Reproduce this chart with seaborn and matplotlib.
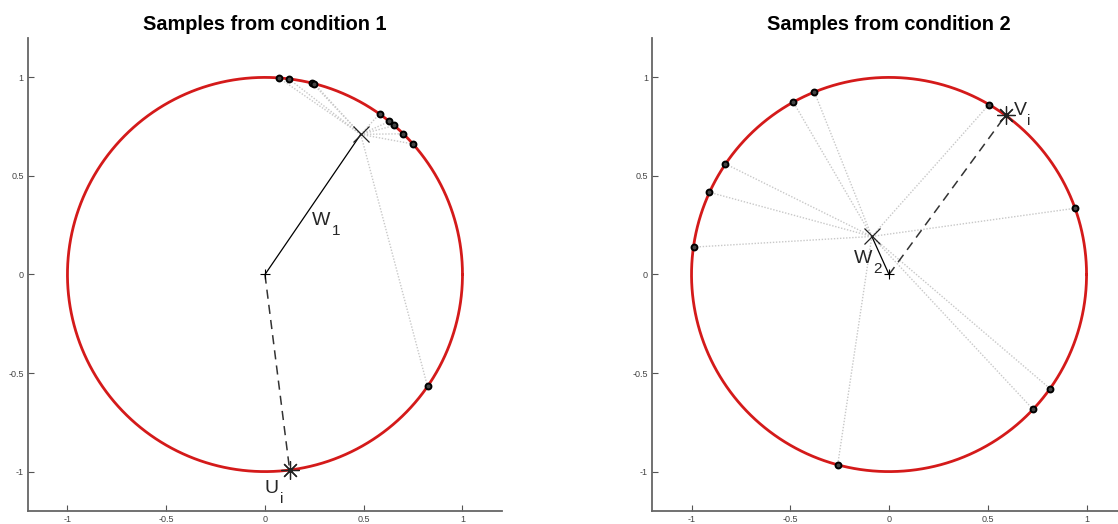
import numpy as np
import matplotlib
matplotlib.use("Agg")
import matplotlib.pyplot as plt
import seaborn as sns

# Data
# condition 1: samples on the unit circle, mean direction W1 and reference U_i
cond1_x = [0.07, 0.12, 0.24, 0.25, 0.58, 0.63, 0.655, 0.70, 0.75, 0.823]
cond1_y = [0.998, 0.993, 0.971, 0.968, 0.815, 0.777, 0.756, 0.714, 0.662, -0.568]
w1 = (0.485, 0.711)
u_i = (0.125, -0.992)

# condition 2
cond2_x = [-0.485, -0.378, 0.506, -0.828, -0.909, -0.987, 0.942, 0.815, 0.729, -0.26]
cond2_y = [0.875, 0.926, 0.862, 0.561, 0.417, 0.139, 0.336, -0.579, -0.684, -0.966]
w2 = (-0.087, 0.193)
v_i = (0.59, 0.807)

titles = ["Samples from condition 1", "Samples from condition 2"]
w_labels = [("W", "1"), ("W", "2")]
ref_labels = [("U", "i"), ("V", "i")]
ticks = [-1, -0.5, 0, 0.5, 1]
tick_labels = ["-1", "-0.5", "0", "0.5", "1"]

sns.set_style("ticks")
plt.rcParams['font.family'] = ['Liberation Sans', 'DejaVu Sans']

fig = plt.figure(figsize=(11.18, 5.24), dpi=100)
ax1 = fig.add_axes([0.025, 0.0248, 0.424, 0.9027])
ax2 = fig.add_axes([0.5832, 0.0248, 0.424, 0.9027])

theta = np.linspace(0, 2 * np.pi, 400)

# label anchor in data coords + x offset (points) of the subscript
panels = [
    (ax1, cond1_x, cond1_y, w1, u_i, (0.24, 0.25, 14), (0.0, -1.11, 11)),
    (ax2, cond2_x, cond2_y, w2, v_i, (-0.18, 0.056, 14), (0.63, 0.81, 10)),
]


def sub_label(ax, pos, parts):
    ax.text(pos[0], pos[1], parts[0], fontsize=14, va='baseline', ha='left', zorder=6)
    ax.annotate(parts[1], xy=(pos[0], pos[1]), xytext=(pos[2], -7),
                textcoords='offset points', fontsize=11, va='baseline', ha='left', zorder=6)


for i, (ax, sx, sy, w, ref, wpos, rpos) in enumerate(panels):
    # dotted lines from mean to each sample
    for x, y in zip(sx, sy):
        ax.plot([w[0], x], [w[1], y], ls=(0, (1, 1.2)), color='#c8c8c8', lw=1.0, zorder=1)

    sns.lineplot(x=np.cos(theta), y=np.sin(theta), sort=False, estimator=None,
                 errorbar=None, ax=ax, color='#d41a1a', lw=2.0, zorder=2)

    ax.plot([0, w[0]], [0, w[1]], color='k', lw=0.9, zorder=3)
    ax.plot([0, ref[0]], [0, ref[1]], color='#333333', lw=1.1, ls=(0, (6, 4)), zorder=3)

    sns.scatterplot(x=sx, y=sy, ax=ax, marker='o', s=18, color='#444444',
                    edgecolor='k', linewidth=1.4, zorder=4)

    ax.plot(0, 0, marker='+', color='k', ms=7, mew=0.8, zorder=5)
    ax.plot(w[0], w[1], marker='x', color='#222222', ms=11, mew=0.9, zorder=5)
    ax.plot(ref[0], ref[1], marker=(8, 2, 0), color='#222222', ms=13, mew=0.9, zorder=5)

    sub_label(ax, wpos, w_labels[i])
    sub_label(ax, rpos, ref_labels[i])

    ax.set_xlim(-1.2, 1.2)
    ax.set_ylim(-1.2, 1.2)
    ax.set_xticks(ticks)
    ax.set_xticklabels(tick_labels)
    ax.set_yticks(ticks)
    ax.set_yticklabels(tick_labels)
    ax.tick_params(direction='in', length=4, width=0.8, colors='#555555',
                   labelsize=6.5, labelcolor='#444444', pad=3)
    sns.despine(ax=ax)
    for sp in ['left', 'bottom']:
        ax.spines[sp].set_color('#666666')
        ax.spines[sp].set_linewidth(1.3)
    ax.set_title(titles[i], fontsize=14.3, fontweight='bold', pad=6, color='k')

fig.savefig("out.png", dpi=100)
